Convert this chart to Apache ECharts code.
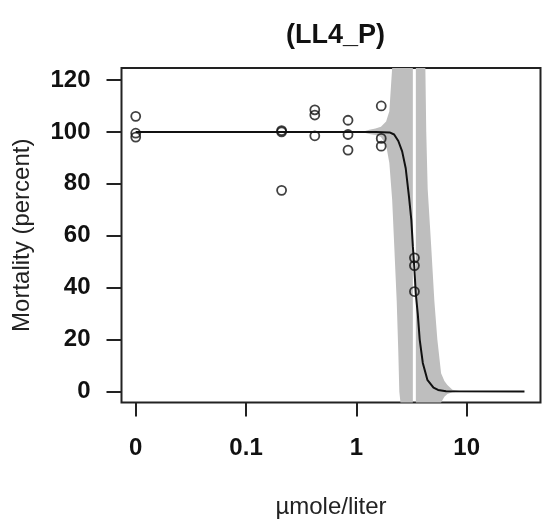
<!DOCTYPE html>
<html>
<head>
<meta charset="utf-8">
<script src="https://cdn.jsdelivr.net/npm/echarts@6/dist/echarts.min.js"></script>
<style>
  html, body { margin: 0; padding: 0; background: #fff; }
  #chart { width: 542px; height: 520px; }
</style>
</head>
<body>
<div id="chart"></div>
<script>
// observed points (dose 0 = control, drawn one decade below 0.1)
var pointDose = [0, 0, 0, 0.21, 0.21, 0.21, 0.42, 0.42, 0.42, 0.84, 0.84, 0.84, 1.68, 1.68, 1.68, 3.36, 3.36, 3.36];
var pointMortality = [106, 99.5, 98, 100.5, 100, 77.5, 108.5, 106.5, 98.5, 104.5, 99, 93, 110, 97.5, 94.5, 51.5, 48.5, 38.5];

// fitted LL4 curve
var curveDose = [0, 1.5, 2.0, 2.2, 2.4, 2.6, 2.8, 3.0, 3.15, 3.25, 3.36, 3.45, 3.6, 3.75, 4.0, 4.4, 5.0, 5.5, 6.5, 33.4];
var curveMortality = [100, 100, 99.8, 99, 96.5, 92.5, 86, 75, 66, 56, 47, 38, 30, 20, 11, 4.5, 1.5, 0.6, 0.1, 0];

// confidence band, drawn in two pieces (gap near 3.36)
var bandLeftDose = [1.18, 1.31, 1.49, 1.67, 1.86, 1.99, 2.11, 2.21, 2.32, 2.40, 2.45, 2.51, 3.25];
var bandLeftUpper = [100.3, 100.8, 101.3, 102, 104, 108, 125, 125, 125, 125, 125, 125, 125];
var bandLeftLower = [99.7, 99.2, 98.8, 98, 95, 88, 74, 55, 35, 15, 0, -5, -5];
var bandRightDose = [3.46, 4.22, 4.30, 4.43, 4.75, 5.09, 5.42, 5.86, 6.28, 6.68, 7.42, 8.58, 10.6];
var bandRightUpper = [125, 125, 100, 78, 57, 35, 20, 7, 4, 2.5, 0.7, 0.2, 0.05];
var bandRightLower = [-5, -5, -5, -5, -5, -5, -5, -5, -2, -1, -0.3, -0.1, -0.05];

// axis ticks
var xTickDose = [0, 0.1, 1, 10];
var xTickLabels = ['0', '0.1', '1', '10'];
var yTicks = [0, 20, 40, 60, 80, 100, 120];

var ZERO_DOSE = 0.01;
var X_MIN = -2.129, X_MAX = 1.669;
var Y_MIN = -4.24, Y_MAX = 124.62;
var FONT = "'Liberation Sans', Arial, sans-serif";

function xPos(d) {
  return Math.log10(d > 0 ? d : ZERO_DOSE);
}
function clampY(v) {
  return Math.max(Y_MIN, Math.min(Y_MAX, v));
}
function bandRenderer(dose, upper, lower) {
  return function (params, api) {
    var pts = [];
    for (var i = 0; i < dose.length; i++) {
      pts.push(api.coord([xPos(dose[i]), clampY(upper[i])]));
    }
    for (var j = dose.length - 1; j >= 0; j--) {
      pts.push(api.coord([xPos(dose[j]), clampY(lower[j])]));
    }
    return { type: 'polygon', shape: { points: pts }, style: { fill: '#bebebe' } };
  };
}

var xTickPos = xTickDose.map(xPos);

var chart = echarts.init(document.getElementById('chart'));
var option = {
  animation: false,
  backgroundColor: '#fff',
  title: {
    text: '(LL4_P)',
    left: 281,
    top: 17,
    textStyle: { fontFamily: FONT, fontSize: 27, fontWeight: 'bold', color: '#111' }
  },
  grid: {
    left: 121.5, right: 1.5, top: 68, bottom: 117.5,
    show: true, borderColor: '#222', borderWidth: 2,
    outerBoundsMode: 'none'
  },
  xAxis: {
    type: 'value',
    min: X_MIN, max: X_MAX,
    axisLine: { show: false, onZero: false },
    splitLine: { show: false },
    axisTick: { show: true, customValues: xTickPos, length: 14, lineStyle: { color: '#222', width: 2 } },
    axisLabel: {
      customValues: xTickPos, margin: 34,
      fontFamily: FONT, fontSize: 24, fontWeight: 'bold', color: '#111',
      formatter: function (v) {
        for (var i = 0; i < xTickPos.length; i++) {
          if (Math.abs(xTickPos[i] - v) < 1e-6) return xTickLabels[i];
        }
        return '';
      }
    },
    name: 'µmole/liter', nameLocation: 'middle', nameGap: 93,
    nameTextStyle: { fontFamily: FONT, fontSize: 24, color: '#222' }
  },
  yAxis: {
    type: 'value',
    min: Y_MIN, max: Y_MAX,
    axisLine: { show: false, onZero: false },
    splitLine: { show: false },
    axisTick: { show: true, customValues: yTicks, length: 15, lineStyle: { color: '#222', width: 2 } },
    axisLabel: {
      customValues: yTicks, margin: 31,
      fontFamily: FONT, fontSize: 24, fontWeight: 'bold', color: '#111'
    },
    name: 'Mortality (percent)', nameLocation: 'middle', nameGap: 87,
    nameTextStyle: { fontFamily: FONT, fontSize: 24, color: '#222' }
  },
  series: [
    { type: 'custom', silent: true, z: 1, data: [0], renderItem: bandRenderer(bandLeftDose, bandLeftUpper, bandLeftLower) },
    { type: 'custom', silent: true, z: 1, data: [0], renderItem: bandRenderer(bandRightDose, bandRightUpper, bandRightLower) },
    {
      type: 'line', z: 3, showSymbol: false, silent: true,
      data: curveDose.map(function (d, i) { return [xPos(d), curveMortality[i]]; }),
      lineStyle: { color: '#111', width: 2 }
    },
    {
      type: 'scatter', z: 4, symbol: 'circle', symbolSize: 9,
      data: pointDose.map(function (d, i) { return [xPos(d), pointMortality[i]]; }),
      itemStyle: { color: 'rgba(0,0,0,0)', borderColor: '#111', borderWidth: 1.8 }
    }
  ]
};
chart.setOption(option);
</script>
</body>
</html>
